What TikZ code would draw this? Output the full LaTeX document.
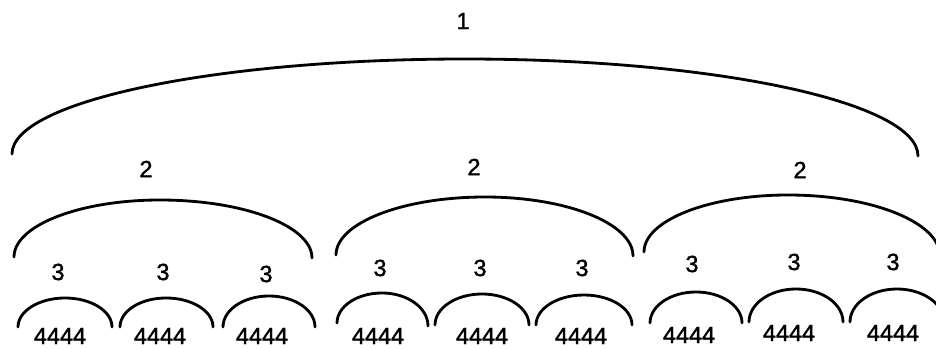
\documentclass[tikz,border=0pt]{standalone}
\usepackage{fontspec}
\usetikzlibrary{calc}
\setmainfont{Liberation Sans}
\newfontfamily\numfont[FakeBold=1.5]{Liberation Sans}
\begin{document}
\begin{tikzpicture}[x=0.03cm,y=-0.03cm,
 numstyle/.style={font=\numfont\fontsize{20}{22}\selectfont,inner sep=0pt},
 archstyle/.style={line width=2.4pt,line cap=round}]
\useasboundingbox (0,0) rectangle (936,349);
% labels
\node[numstyle](n1) at (463,21){1};
\foreach \x/\y [count=\i] in {146/169,474/167,800/170}
 \node[numstyle](n2\i) at (\x,\y){2};
\foreach \x/\y [count=\i] in {58/272,163/272,266/274,380/268,480/268,582/268,692/264,794/262,893/262}
 \node[numstyle](n3\i) at (\x,\y){3};
\foreach \x/\y [count=\i] in {60/336,160/336,262/336,378/336,482/336,581/336,689/335,789/333,893/333}
 \node[numstyle](n4\i) at (\x,\y){4444};
% arcs: left x/left y/top x/top y/right x/right y
\foreach \lx/\ly/\tx/\ty/\rx/\ry [count=\i] in
 {12/154/465/59/918/156,
  14/257/160/200/312/258, 336/255/485/197/633/256, 644/252/788/195/940/256,
  18/327/65/298/112/327, 120/327/166/298/213/327, 223/327/269/296/315/327,
  337/323/382/293/428/326, 435/325/482/294/529/325, 536/325/584/295/632/325,
  650/323/696/292/742/323, 749/322/796/289/843/322, 850/322/897/289/944/322}
{\coordinate (l\i) at (\lx,\ly);
 \coordinate (t\i) at (\tx,\ty);
 \coordinate (r\i) at (\rx,\ry);
 \draw[archstyle] (l\i) .. controls ($(l\i)!0.5523!(l\i|-t\i)$) and ($(t\i)!0.5523!(t\i-|l\i)$) .. (t\i)
   .. controls ($(t\i)!0.5523!(t\i-|r\i)$) and ($(r\i)!0.5523!(r\i|-t\i)$) .. (r\i);
}
\end{tikzpicture}
\end{document}
